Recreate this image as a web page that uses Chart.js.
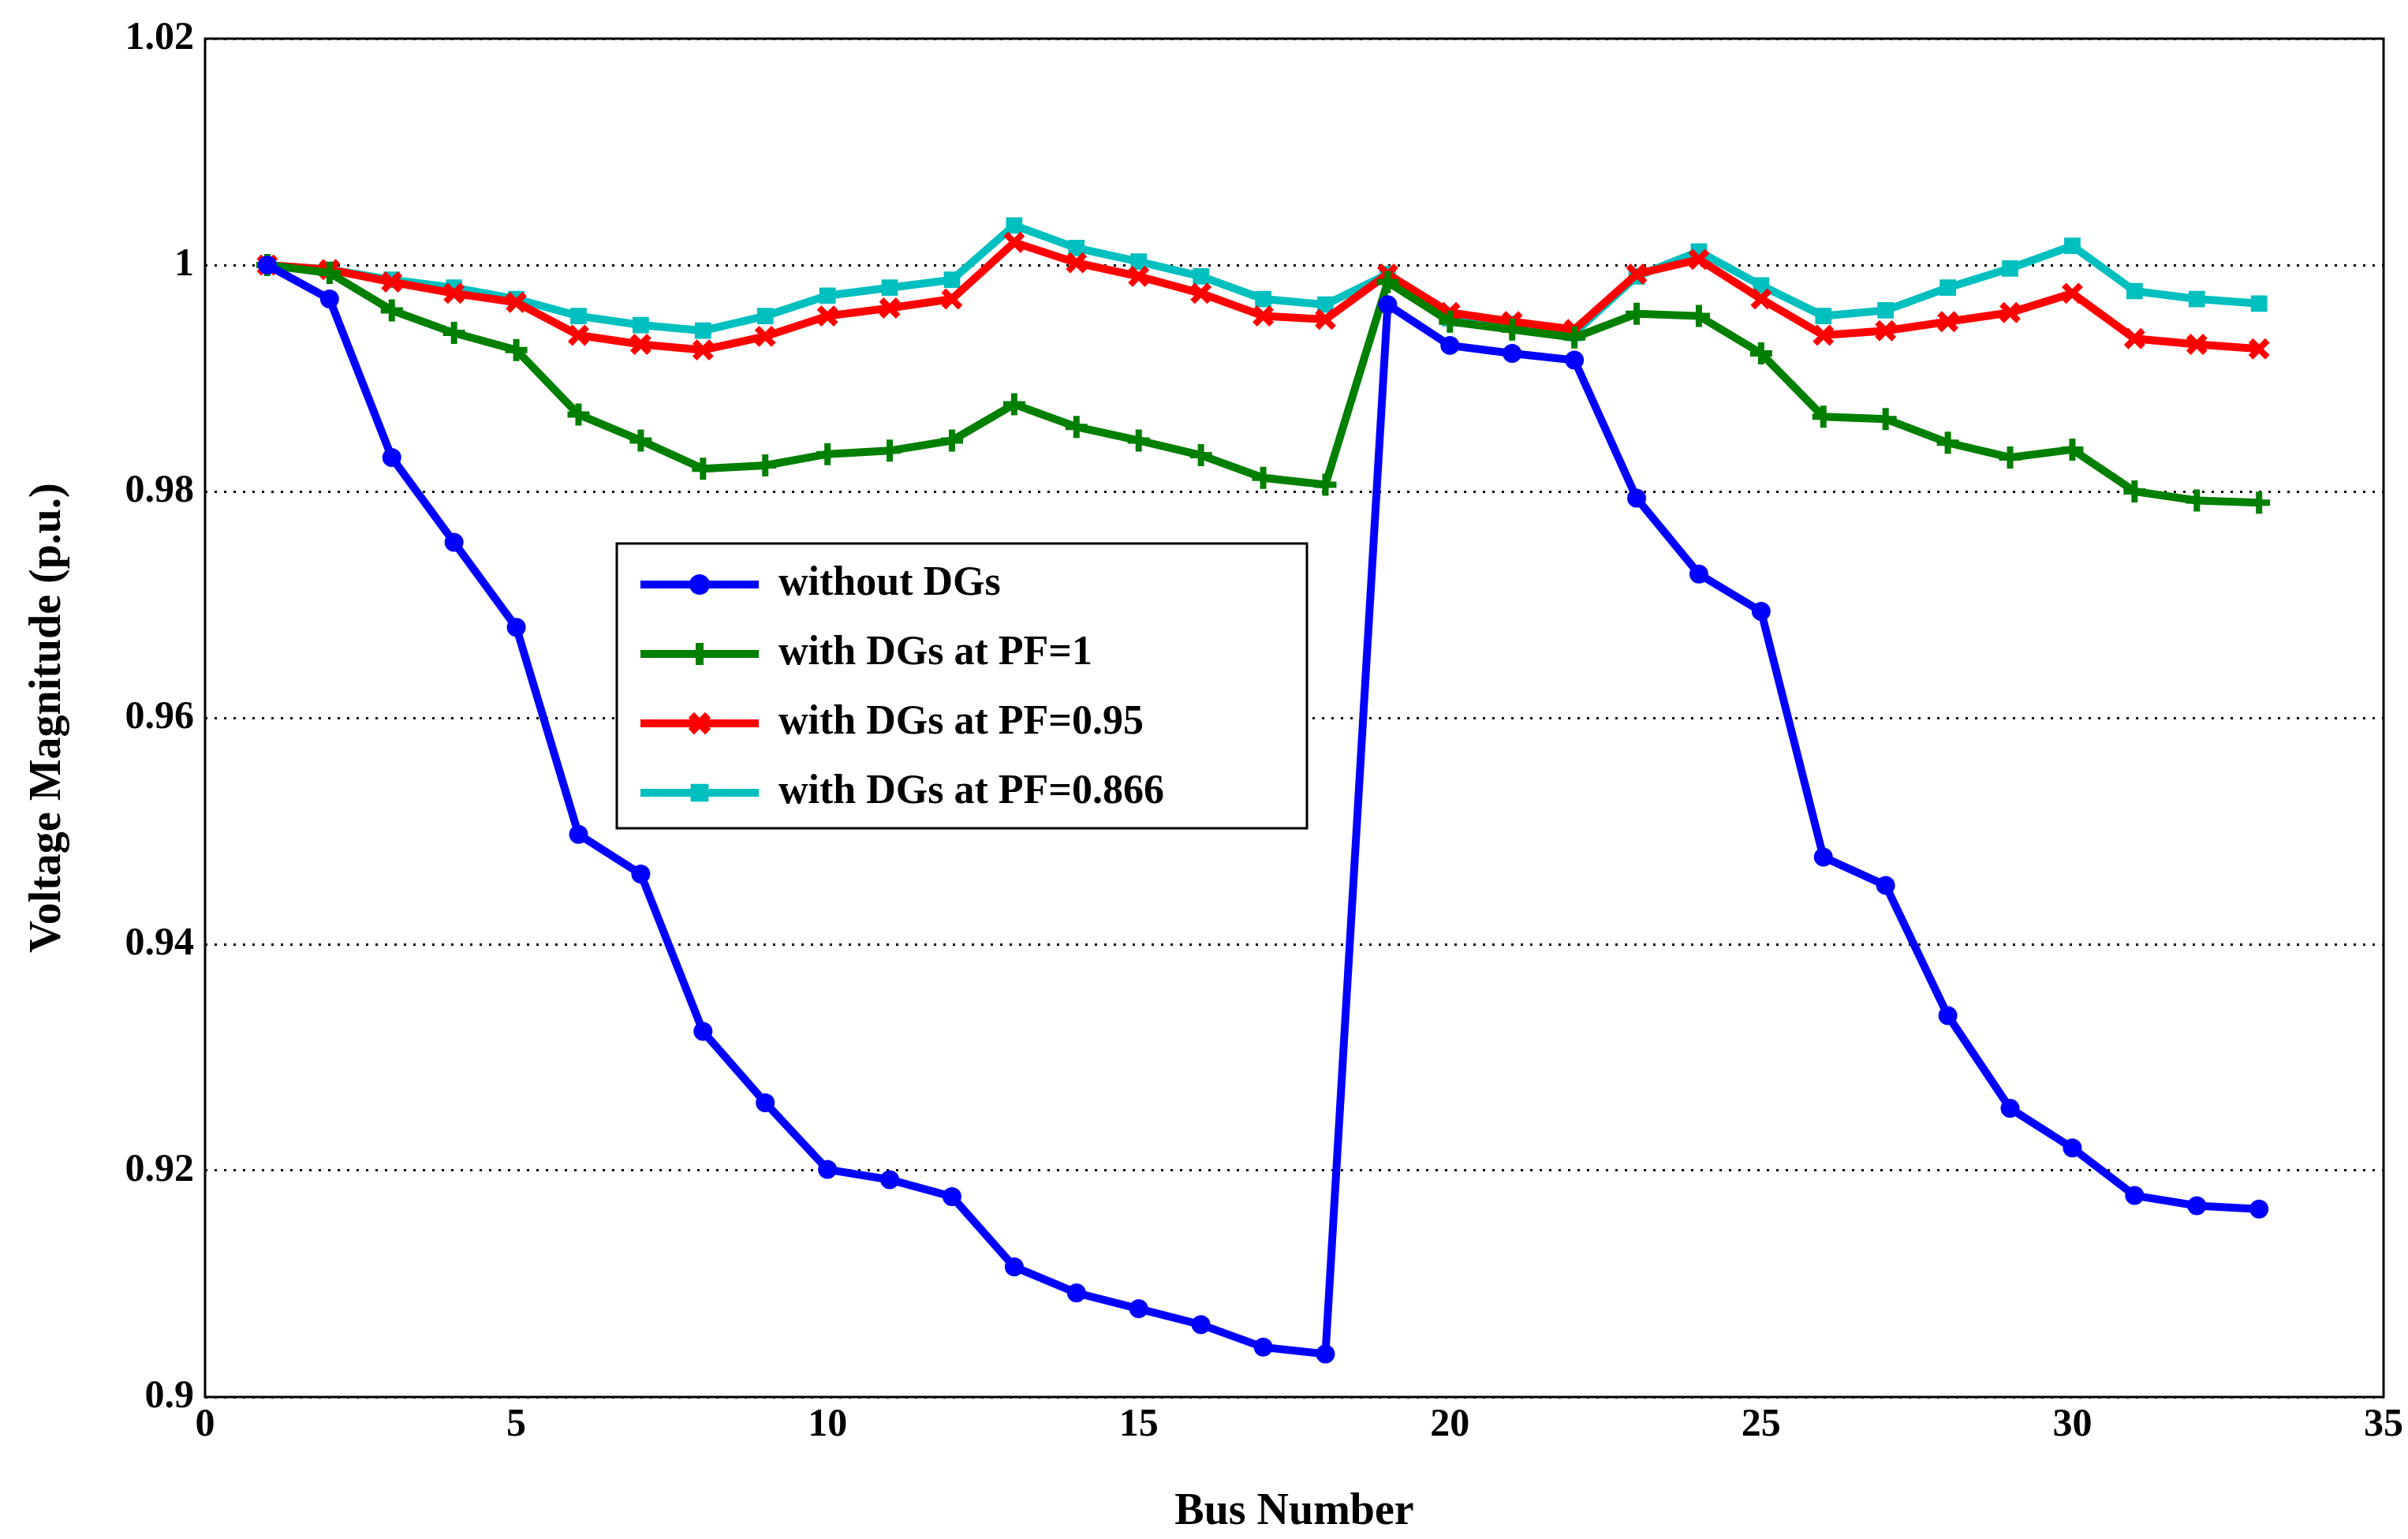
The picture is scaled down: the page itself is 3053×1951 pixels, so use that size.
<!DOCTYPE html>
<html>
<head>
<meta charset="utf-8">
<script src="https://cdn.jsdelivr.net/npm/chart.js@4"></script>
<style>
body { margin: 0; background: #fff; }
</style>
</head>
<body>
<canvas id="chart" width="3053" height="1951"></canvas>
<script>
const buses = Array.from({length: 33}, (_, i) => i + 1);

const withoutDG = [1, 0.997, 0.983, 0.9755, 0.968, 0.9497, 0.9462, 0.9323, 0.926, 0.9201, 0.9192, 0.9177,
    0.9115, 0.9092, 0.9078, 0.9064, 0.9044, 0.9038, 0.9965, 0.9929, 0.9922, 0.9916, 0.9794, 0.9727,
    0.9694, 0.9477, 0.9452, 0.9337, 0.9255, 0.922, 0.9178, 0.9169, 0.9166];
const pf1 = [1, 0.9993, 0.996, 0.994, 0.9925, 0.9868, 0.9845, 0.982, 0.9823, 0.9833, 0.9836, 0.9845,
    0.9877, 0.9857, 0.9845, 0.9832, 0.9812, 0.9806, 0.9985, 0.995, 0.9943, 0.9936, 0.9957, 0.9955,
    0.9922, 0.9866, 0.9864, 0.9843, 0.983, 0.9837, 0.98, 0.9792, 0.979];
const pf095 = [1, 0.9996, 0.9985, 0.9975, 0.9967, 0.9938, 0.993, 0.9925, 0.9937, 0.9955, 0.9962, 0.997,
    1.002, 1.0002, 0.999, 0.9975, 0.9955, 0.9952, 0.9992, 0.9958, 0.995, 0.9943, 0.9992, 1.0005,
    0.997, 0.9938, 0.9942, 0.995, 0.9958, 0.9975, 0.9935, 0.993, 0.9926];
const pf0866 = [1, 0.9996, 0.9987, 0.998, 0.997, 0.9955, 0.9947, 0.9942, 0.9955, 0.9973, 0.998, 0.9987,
    1.0035, 1.0015, 1.0003, 0.999, 0.997, 0.9965, 0.9992, 0.9953, 0.9948, 0.994, 0.999, 1.0012,
    0.9982, 0.9955, 0.996, 0.998, 0.9997, 1.0017, 0.9977, 0.997, 0.9966];

const seriesNames = ['without DGs', 'with DGs at PF=1', 'with DGs at PF=0.95', 'with DGs at PF=0.866'];
const seriesColors = ['#0000ff', '#007f00', '#ff0000', '#00bfbf'];
const seriesMarkers = ['circle', 'cross', 'crossRot', 'rect'];
const markerSizes = [8, 14, 15, 9];
const seriesData = [withoutDG, pf1, pf095, pf0866];

const font = 'Times New Roman, Liberation Serif, serif';

const datasets = seriesData.map((d, i) => ({
    label: seriesNames[i],
    data: d.map((v, j) => ({x: buses[j], y: v})),
    borderColor: seriesColors[i],
    backgroundColor: seriesColors[i],
    borderWidth: 10,
    pointStyle: seriesMarkers[i],
    pointRadius: markerSizes[i],
    pointBorderWidth: 8,
    tension: 0
}));

// box frame + legend
const framePlugin = {
    id: 'frame',
    afterDraw(chart) {
        const c = chart.ctx, a = chart.chartArea;
        c.save();
        c.strokeStyle = '#000';
        c.lineWidth = 3;
        c.strokeRect(a.left, a.top, a.right - a.left, a.bottom - a.top);
        // legend
        const lx = 782, ly = 689, lw = 875, lh = 361;
        c.fillStyle = '#fff';
        c.fillRect(lx, ly, lw, lh);
        c.strokeRect(lx, ly, lw, lh);
        c.font = 'bold 52px ' + font;
        c.textBaseline = 'middle';
        seriesNames.forEach((name, i) => {
            const y = ly + 52 + i * 88;
            c.strokeStyle = seriesColors[i];
            c.fillStyle = seriesColors[i];
            c.lineWidth = 10;
            c.beginPath();
            c.moveTo(lx + 30, y);
            c.lineTo(lx + 180, y);
            c.stroke();
            Chart.helpers.drawPoint(c, {pointStyle: seriesMarkers[i], radius: markerSizes[i], borderWidth: 8}, lx + 105, y);
            c.fillStyle = '#000';
            c.fillText(name, lx + 205, y);
        });
        c.restore();
    }
};

new Chart(document.getElementById('chart').getContext('2d'), {
    type: 'line',
    data: {datasets: datasets},
    options: {
        responsive: false,
        devicePixelRatio: 1,
        animation: false,
        layout: {padding: {top: 49, right: 31, left: 28, bottom: 0}},
        plugins: {legend: {display: false}, tooltip: {enabled: false}},
        scales: {
            x: {
                type: 'linear', min: 0, max: 35,
                ticks: {stepSize: 5, color: '#000', font: {family: font, size: 50, weight: 'bold'}, padding: 6},
                grid: {display: false, drawTicks: false},
                border: {display: false},
                title: {display: true, text: 'Bus Number', color: '#000', font: {family: font, size: 56, weight: 'bold'}, padding: {top: -6, bottom: 0}},
                afterFit: s => { s.height = 180; }
            },
            y: {
                min: 0.9, max: 1.02,
                ticks: {stepSize: 0.02, color: '#000', font: {family: font, size: 50, weight: 'bold'}, padding: 14,
                    callback: v => String(parseFloat(v.toFixed(2)))},
                grid: {color: '#000', lineWidth: 3, drawTicks: false},
                border: {display: false, dash: [3, 9]},
                title: {display: true, text: 'Voltage Magnitude (p.u.)', color: '#000', font: {family: font, size: 56, weight: 'bold'}, padding: 0},
                afterFit: s => { s.width = 232; }
            }
        }
    },
    plugins: [framePlugin]
});
</script>
</body>
</html>
